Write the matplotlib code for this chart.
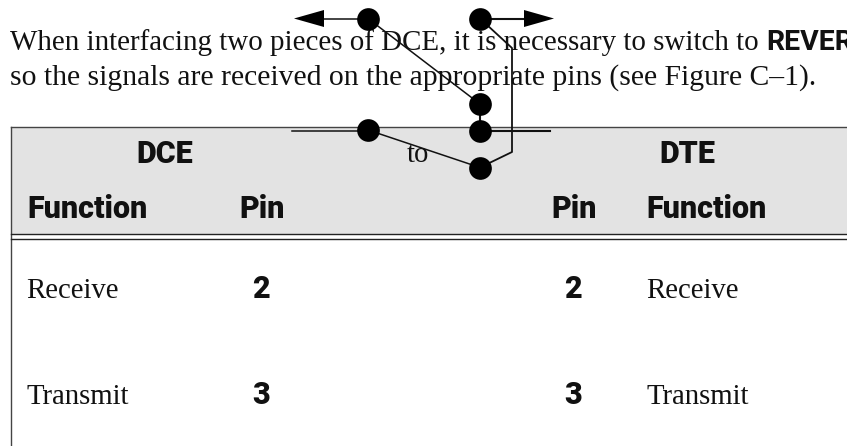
import matplotlib
matplotlib.use("Agg")
import matplotlib.pyplot as plt
from matplotlib.patches import Rectangle, Polygon

intro_1 = "When interfacing two pieces of DCE, it is necessary to switch to"
intro_bold = "REVERSE"
intro_2 = "so the signals are received on the appropriate pins (see Figure C\u20131)."
group_labels = ["DCE", "to", "DTE"]
col_labels = ["Function", "Pin", "Pin", "Function"]
functions = ["Receive", "Transmit"]
pins = ["2", "3"]

node_x = [368, 480, 480, 480, 368, 480]
node_y = [18.5, 18.5, 104, 130.5, 130, 167.5]
wires = [
    ([368, 323], [18.5, 18.5], 1.1),
    ([480, 524], [18.5, 18.5], 1.5),
    ([368, 480], [18.5, 104], 1.1),
    ([480, 512, 512, 480], [18.5, 48, 152, 167.5], 1.3),
    ([480, 480], [104, 130.5], 1.5),
    ([292, 368], [131, 131], 1.1),
    ([480, 550], [131, 131], 1.5),
    ([368, 480], [130, 167.5], 1.1),
]

SERIF = "Liberation Serif"
HEAD = "Roboto"
fig = plt.figure(figsize=(8.47, 4.46), dpi=100)
ax = fig.add_axes([0, 0, 1, 1])
ax.set_xlim(0, 847)
ax.set_ylim(446, 0)
ax.axis("off")

ax.add_patch(Rectangle((10.5, 126.5), 840, 107, fc="#e3e3e3", ec="none", zorder=0))
ax.plot([10.5, 847], [126.5, 126.5], color="#444444", lw=1, zorder=1)
ax.plot([10.5, 10.5], [126.5, 446], color="#444444", lw=1, zorder=1)
ax.plot([10.5, 847], [233.5, 233.5], color="#222222", lw=1, zorder=1)
ax.plot([10.5, 847], [238.5, 238.5], color="#222222", lw=1, zorder=1)

body = dict(family=SERIF, size=20.7, color="#111111", zorder=2, va="baseline")
head = dict(family=HEAD, size=22, weight="black", color="#111111", zorder=2, va="baseline")

ax.text(10, 49.5, intro_1, **{**body, "size": 20.9})
ax.text(766, 49.5, intro_bold, family=HEAD, size=20.5, weight="bold", color="#111111", va="baseline")
ax.text(10, 85, intro_2, **{**body, "size": 21.3})

ax.text(136.5, 163, group_labels[0], **head)
ax.text(406.5, 162.5, group_labels[1], **body)
ax.text(659.5, 163, group_labels[2], **head)

ax.text(27, 217.5, col_labels[0], **head)
ax.text(239, 217.5, col_labels[1], **head)
ax.text(551, 217.5, col_labels[2], **head)
ax.text(646, 217.5, col_labels[3], **head)

for y, f, p in zip([298, 404], functions, pins):
    ax.text(26.5, y, f, **body)
    ax.text(252, y, p, **head)
    ax.text(564, y, p, **head)
    ax.text(646.5, y, f, **body)

for xs, ys, lw in wires:
    ax.plot(xs, ys, color="#111111", lw=lw, zorder=3)
ax.scatter(node_x, node_y, s=267, color="black", linewidths=0, zorder=4)
ax.add_patch(Polygon([(294, 18.5), (324, 10), (324, 27)], fc="black", ec="none", zorder=4))
ax.add_patch(Polygon([(554, 18.5), (524, 10), (524, 27)], fc="black", ec="none", zorder=4))

fig.savefig("out.png", dpi=100)
